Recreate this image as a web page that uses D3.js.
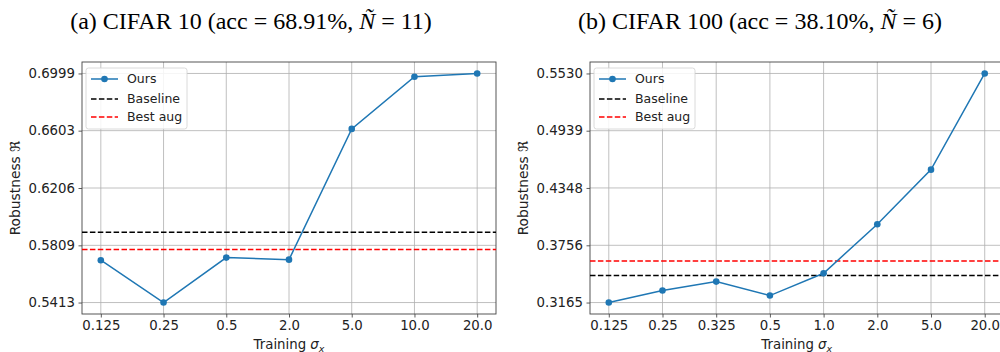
<!DOCTYPE html>
<html><head><meta charset="utf-8">
<script src="https://cdn.jsdelivr.net/npm/d3@7"></script>
<style>
html,body{margin:0;padding:0;background:#fff;}
svg{display:block;}
</style></head>
<body>
<svg id="chart" width="1000" height="352"></svg>
<script>
// ---- data ----
const catsA = ["0.125","0.25","0.5","2.0","5.0","10.0","20.0"];
const oursA = [0.5706, 0.5413, 0.5724, 0.5710, 0.6615, 0.6976, 0.6999];
const baselineA = 0.5899;
const bestAugA = 0.5780;
const ticksA = [0.5413, 0.5809, 0.6206, 0.6603, 0.6999];
const ticksLabelA = ["0.5413","0.5809","0.6206","0.6603","0.6999"];

const catsB = ["0.125","0.25","0.325","0.5","1.0","2.0","5.0","20.0"];
const oursB = [0.3165, 0.3289, 0.3381, 0.3237, 0.3467, 0.3974, 0.4537, 0.5530];
const baselineB = 0.3443;
const bestAugB = 0.3593;
const ticksB = [0.3165, 0.3756, 0.4348, 0.4939, 0.5530];
const ticksLabelB = ["0.3165","0.3756","0.4348","0.4939","0.5530"];

const legendLabels = ["Ours","Baseline","Best aug"];
const titleA = ["(a) CIFAR 10 (acc = 68.91%, ", "Ñ", " = 11)"];
const titleB = ["(b) CIFAR 100 (acc = 38.10%, ", "Ñ", " = 6)"];

const svg = d3.select("#chart");
const sans = "'DejaVu Sans', sans-serif";
const serif = "'Liberation Serif', 'Times New Roman', serif";

function panel(cfg){
  const {x0,x1,y0,y1,cats,ours,baseline,bestAug,ticks,tickLabels,title,titleX,ylabX} = cfg;
  const n = cats.length;
  const xm = 0.05*(n-1);
  const x = d3.scaleLinear().domain([-xm, n-1+xm]).range([x0,x1]);
  const lo = d3.min(ours), hi = d3.max(ours), r = hi-lo;
  const y = d3.scaleLinear().domain([lo-0.05*r, hi+0.05*r]).range([y1,y0]);

  const g = svg.append("g");
  const clipId = "clip"+Math.round(x0);
  svg.append("clipPath").attr("id",clipId).append("rect")
    .attr("x",x0).attr("y",y0).attr("width",x1-x0).attr("height",y1-y0);

  // grid
  g.append("g").selectAll("line").data(ticks).join("line")
    .attr("x1",x0).attr("x2",x1).attr("y1",d=>y(d)).attr("y2",d=>y(d))
    .attr("stroke","#b0b0b0").attr("stroke-width",0.8);
  g.append("g").selectAll("line").data(d3.range(n)).join("line")
    .attr("x1",d=>x(d)).attr("x2",d=>x(d)).attr("y1",y0).attr("y2",y1)
    .attr("stroke","#b0b0b0").attr("stroke-width",0.8);

  // axes
  const yAxis = d3.axisLeft(y).tickValues(ticks).tickFormat((d,i)=>tickLabels[i]).tickSize(3.5).tickPadding(3.5);
  const ya = g.append("g").attr("transform",`translate(${x0},0)`).call(yAxis);
  const xAxis = d3.axisBottom(x).tickValues(d3.range(n)).tickFormat(i=>cats[i]).tickSize(3.5).tickPadding(3.5);
  const xa = g.append("g").attr("transform",`translate(0,${y1})`).call(xAxis);
  [ya,xa].forEach(a=>{
    a.select(".domain").remove();
    a.selectAll("line").attr("stroke","#333").attr("stroke-width",0.8);
    a.selectAll("text").attr("font-family",sans).attr("font-size",13.3).attr("fill","#222");
  });

  // spines
  g.append("rect").attr("x",x0).attr("y",y0).attr("width",x1-x0).attr("height",y1-y0)
    .attr("fill","none").attr("stroke","#444").attr("stroke-width",0.9);

  const pg = g.append("g").attr("clip-path",`url(#${clipId})`);
  // horizontal reference lines
  pg.append("line").attr("x1",x0).attr("x2",x1).attr("y1",y(baseline)).attr("y2",y(baseline))
    .attr("stroke","#000").attr("stroke-width",1.5).attr("stroke-dasharray","5.5,2.4");
  pg.append("line").attr("x1",x0).attr("x2",x1).attr("y1",y(bestAug)).attr("y2",y(bestAug))
    .attr("stroke","#ff0000").attr("stroke-width",1.5).attr("stroke-dasharray","5.5,2.4");
  // ours
  const line = d3.line().x((d,i)=>x(i)).y(d=>y(d));
  pg.append("path").datum(ours).attr("d",line).attr("fill","none")
    .attr("stroke","#1f77b4").attr("stroke-width",1.5);
  pg.append("g").selectAll("circle").data(ours).join("circle")
    .attr("cx",(d,i)=>x(i)).attr("cy",d=>y(d)).attr("r",3.3).attr("fill","#1f77b4");

  // legend
  const lx = x0+4, ly = y0+6;
  const lg = g.append("g");
  lg.append("rect").attr("x",lx).attr("y",ly).attr("width",101).attr("height",61).attr("rx",2.5)
    .attr("fill","#fff").attr("fill-opacity",0.85).attr("stroke","#d0d0d0").attr("stroke-width",0.8);
  const rows = [ly+11, ly+31, ly+49];
  const styles = [{c:"#1f77b4",dash:null},{c:"#000",dash:"5.5,2.4"},{c:"#ff0000",dash:"5.5,2.4"}];
  legendLabels.forEach((lab,i)=>{
    const l = lg.append("line").attr("x1",lx+5).attr("x2",lx+32).attr("y1",rows[i]).attr("y2",rows[i])
      .attr("stroke",styles[i].c).attr("stroke-width",1.5);
    if(styles[i].dash) l.attr("stroke-dasharray",styles[i].dash);
    if(i===0) lg.append("circle").attr("cx",lx+18.5).attr("cy",rows[i]).attr("r",3.3).attr("fill",styles[i].c);
    lg.append("text").attr("x",lx+41).attr("y",rows[i]).attr("dy","0.35em")
      .attr("font-family",sans).attr("font-size",12.5).attr("fill","#222").text(lab);
  });

  // axis labels
  const xl = g.append("text").attr("x",(x0+x1)/2).attr("y",349).attr("text-anchor","middle")
    .attr("font-family",sans).attr("font-size",13.3).attr("fill","#222");
  xl.append("tspan").text("Training ");
  xl.append("tspan").attr("font-style","italic").text("σ");
  xl.append("tspan").attr("font-style","italic").attr("font-size",9.5).attr("dy",2.5).text("x");

  g.append("text").attr("transform",`translate(${ylabX},${(y0+y1)/2}) rotate(-90)`)
    .attr("text-anchor","middle").attr("dy","0.35em")
    .attr("font-family",sans).attr("font-size",13.8).attr("fill","#222").text("Robustness ℜ");

  // title
  const t = svg.append("text").attr("x",titleX).attr("y",29).attr("text-anchor","middle")
    .attr("font-family",serif).attr("font-size",24).attr("fill","#000");
  t.append("tspan").text(title[0]);
  t.append("tspan").attr("font-style","italic").text(title[1]);
  t.append("tspan").text(title[2]);
}

panel({x0:82,x1:496,y0:62,y1:314,cats:catsA,ours:oursA,baseline:baselineA,bestAug:bestAugA,
  ticks:ticksA,tickLabels:ticksLabelA,title:titleA,titleX:251,ylabX:15});
panel({x0:590,x1:1003.5,y0:62,y1:314,cats:catsB,ours:oursB,baseline:baselineB,bestAug:bestAugB,
  ticks:ticksB,tickLabels:ticksLabelB,title:titleB,titleX:760,ylabX:523});
</script>
</body></html>
